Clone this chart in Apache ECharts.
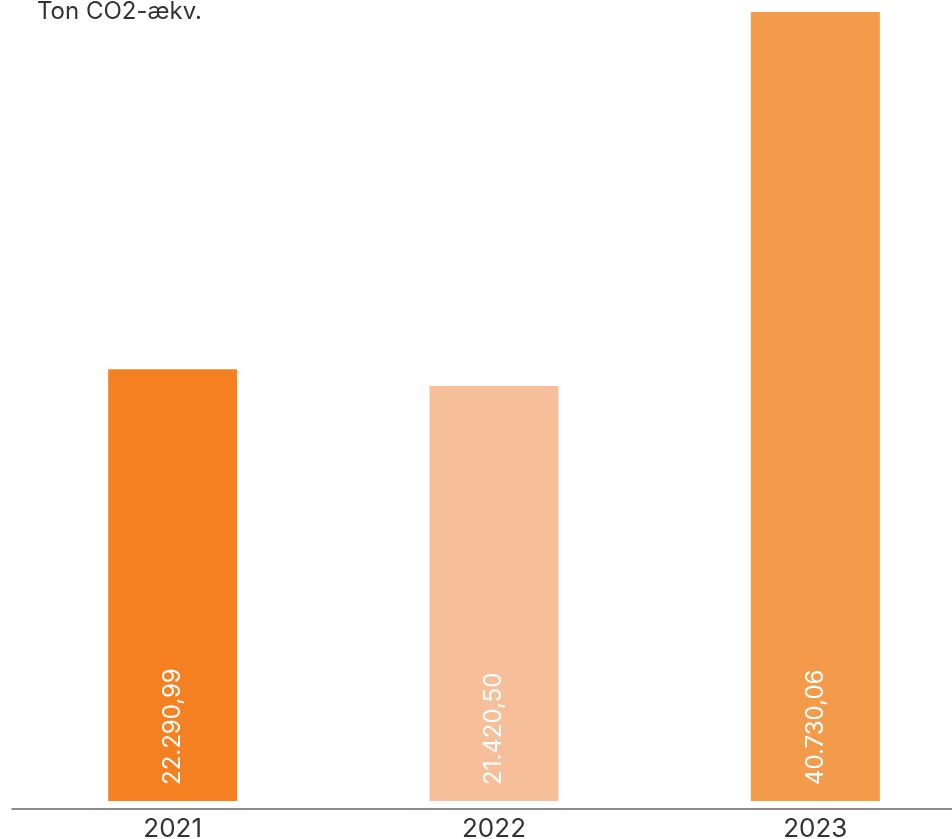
<!DOCTYPE html>
<html><head><meta charset="utf-8">
<script src="https://cdn.jsdelivr.net/npm/echarts@6/dist/echarts.min.js"></script>
<style>html,body{margin:0;padding:0;background:#fff}#c{width:952px;height:839px}</style>
</head><body><div id="c"></div>
<script>
const categories = ['2021', '2022', '2023'];
const values = [22290.99, 21420.50, 40730.06];
const barColors = ['#F48022', '#F6BF99', '#F49A4B'];
const unitLabel = 'Ton CO2-ækv.';

function fmtDa(v) {
  const parts = v.toFixed(2).split('.');
  return parts[0].replace(/\B(?=(\d{3})+(?!\d))/g, '.') + ',' + parts[1];
}

const chart = echarts.init(document.getElementById('c'), null, {renderer: 'canvas'});
chart.setOption({
  animation: false,
  title: {
    text: unitLabel, left: 32, top: -5,
    textStyle: {fontFamily: 'Inter', fontSize: 24, fontWeight: 'normal', color: '#333'}
  },
  grid: {left: 12, width: 964, top: 12, bottom: 30, containLabel: false, outerBoundsMode: 'none'},
  xAxis: {
    type: 'category', data: categories,
    axisLine: {show: true, onZero: false, lineStyle: {color: '#666', width: 1.5}},
    axisTick: {show: false},
    axisLabel: {fontFamily: 'Inter', fontSize: 26, color: '#333', margin: 7}
  },
  yAxis: {
    type: 'value', min: -413, max: 40730.06, show: false,
    splitLine: {show: false}
  },
  series: [{
    type: 'bar', barWidth: 129,
    data: values.map((v, i) => ({value: v, itemStyle: {color: barColors[i]}})),
    label: {
      show: true, position: 'insideBottom', rotate: 90, align: 'left', verticalAlign: 'middle',
      distance: 16, color: '#fff', fontFamily: 'Inter', fontSize: 24,
      formatter: p => fmtDa(p.value)
    }
  }]
});
</script></body></html>
